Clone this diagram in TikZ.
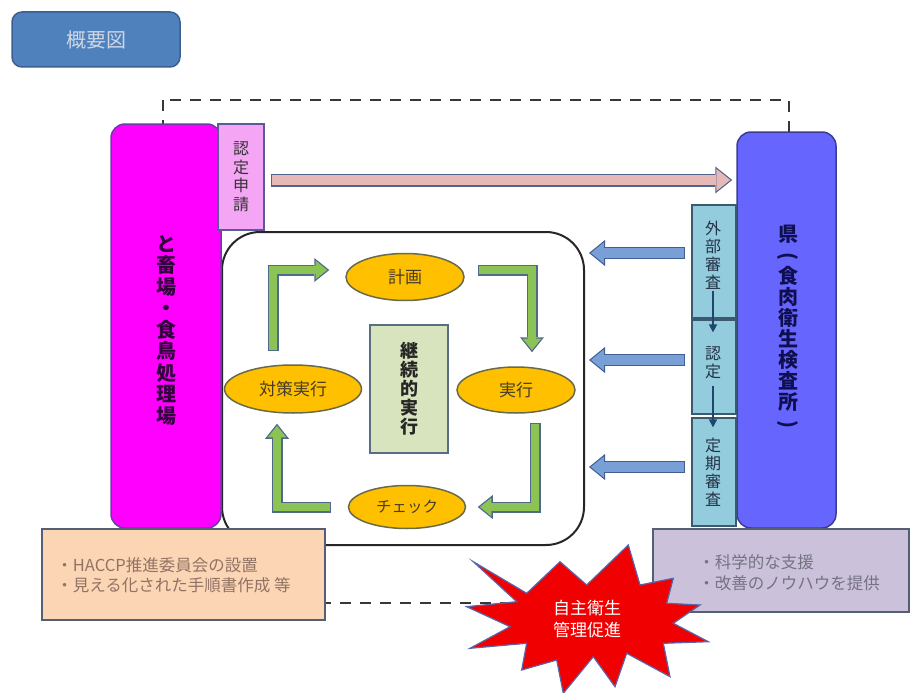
\documentclass[tikz,border=0pt]{standalone}
\usepackage{graphicx}
\usepackage{fontspec}
\setmainfont{Noto Sans CJK JP}
\usetikzlibrary{shapes.geometric,arrows.meta,calc}
\definecolor{dashc}{RGB}{55,55,55}
\definecolor{btnfill}{RGB}{79,129,189}
\definecolor{btnline}{RGB}{60,95,145}
\definecolor{btntext}{RGB}{205,215,230}
\definecolor{magfill}{RGB}{255,0,255}
\definecolor{magline}{RGB}{105,60,170}
\definecolor{magtext}{RGB}{50,0,60}
\definecolor{shinfill}{RGB}{244,165,244}
\definecolor{shinline}{RGB}{90,90,150}
\definecolor{kenfill}{RGB}{102,102,255}
\definecolor{kenline}{RGB}{60,60,150}
\definecolor{kentext}{RGB}{15,15,80}
\definecolor{lbfill}{RGB}{147,205,221}
\definecolor{lbline}{RGB}{60,90,110}
\definecolor{lbtext}{RGB}{35,50,70}
\definecolor{varrc}{RGB}{30,70,110}
\definecolor{bafill}{RGB}{120,160,215}
\definecolor{baline}{RGB}{65,95,150}
\definecolor{pkfill}{RGB}{230,185,184}
\definecolor{pkline}{RGB}{80,100,140}
\definecolor{elfill}{RGB}{255,192,0}
\definecolor{elline}{RGB}{105,105,75}
\definecolor{eltext}{RGB}{70,60,40}
\definecolor{gfill}{RGB}{140,195,85}
\definecolor{gline}{RGB}{80,105,140}
\definecolor{cfill}{RGB}{215,228,189}
\definecolor{cline}{RGB}{90,110,130}
\definecolor{peach}{RGB}{252,213,181}
\definecolor{peachtext}{RGB}{145,115,100}
\definecolor{lav}{RGB}{204,193,218}
\definecolor{lavtext}{RGB}{115,115,130}
\definecolor{boxline}{RGB}{85,95,115}
\definecolor{starfill}{RGB}{240,0,0}
\definecolor{starline}{RGB}{90,100,170}
\newcommand\fsz[2]{\fontsize{#1}{#2}\selectfont}
\newcommand\vparen[1]{\rotatebox[origin=c]{-90}{#1}}
\tikzset{
  frame/.style={draw=dashc, line width=2.5pt, dash pattern=on 11pt off 9pt},
  btn/.style={draw=btnline, fill=btnfill, line width=1.5pt, rounded corners=10pt,
    minimum width=168pt, minimum height=55pt, text=btntext, font=\fsz{20}{22}},
  bigrect/.style={draw=black!85, line width=2pt, fill=white, rounded corners=38pt,
    minimum width=362pt, minimum height=313pt},
  ell/.style={ellipse, draw=elline, line width=1.5pt, fill=elfill, inner sep=0pt,
    text=eltext, font=\fsz{17}{19}},
  vtext/.style={align=center, inner sep=0pt},
  magbox/.style={draw=magline, line width=1.5pt, fill=magfill, rounded corners=14pt,
    minimum width=110pt, minimum height=404pt},
  kenbox/.style={draw=kenline, line width=1.5pt, fill=kenfill, rounded corners=14pt,
    minimum width=99pt, minimum height=396pt},
  shinbox/.style={draw=shinline, line width=1.2pt, fill=shinfill, minimum width=46pt,
    minimum height=106pt, inner sep=0pt},
  lbbox/.style={draw=lbline, line width=1.2pt, fill=lbfill, minimum width=44pt, inner sep=0pt},
  cbox/.style={draw=cline, line width=1.5pt, fill=cfill, minimum width=78pt,
    minimum height=128pt, inner sep=0pt},
  gO/.style={draw=gline, line width=11pt, line join=miter,
    -{Triangle[length=15pt,width=24pt,line width=0pt]}},
  gI/.style={draw=gfill, line width=8.4pt, line join=miter, shorten <=1.3pt, shorten >=2.08pt,
    -{Triangle[length=11.6pt,width=18.6pt,line width=0pt]}},
  bO/.style={draw=baline, line width=12pt,
    -{Triangle[length=16pt,width=26pt,line width=0pt]}},
  bI/.style={draw=bafill, line width=9.6pt, shorten <=1.2pt, shorten >=1.9pt,
    -{Triangle[length=12.9pt,width=21pt,line width=0pt]}},
  pO/.style={draw=pkline, line width=13pt,
    -{Triangle[length=17pt,width=27pt,line width=0pt]}},
  pI/.style={draw=pkfill, line width=10.6pt, shorten <=1.2pt, shorten >=1.93pt,
    -{Triangle[length=13.9pt,width=22pt,line width=0pt]}},
  varr/.style={draw=varrc, line width=1.5pt, -{Triangle[length=8pt,width=8pt]}},
  notebox/.style={draw=boxline, line width=1.5pt, inner sep=0pt},
  starshape/.style={draw=starline, line width=1.2pt, fill=starfill, line join=miter},
}
\begin{document}
\begin{tikzpicture}[x=1pt,y=-1pt]
\useasboundingbox (0,0) rectangle (911,693);
\fill[white] (0,0) rectangle (911,693);

% dashed frame
\draw[frame] (163,100) rectangle (789,603);

% title button
\node[btn] (btn) at (96,39.5) {概要図};

% central rounded box
\node[bigrect] (big) at (403,388.5) {};

% PDCA ellipses
\node[ell, minimum width=118pt, minimum height=47pt] (keikaku) at (405,277) {計画};
\node[ell, minimum width=118pt, minimum height=46pt] (jikkou) at (516,390) {実行};
\node[ell, minimum width=137pt, minimum height=48pt] (taisaku) at (293,389) {対策実行};
\node[ell, minimum width=117pt, minimum height=43pt, font=\fsz{15.5}{18}] (check) at (407,507) {チェック};

% centre box
\node[cbox] (keizoku) at (409,389) {};
\node[vtext, font=\fsz{18}{19}\bfseries, text=black!85] at (keizoku) {継\\続\\的\\実\\行};

% green cycle arrows
\draw[gO] ($(taisaku.north)+(-20,-13)$) |- ($(keikaku.west)+(-16,-7)$);
\draw[gI] ($(taisaku.north)+(-20,-13)$) |- ($(keikaku.west)+(-16,-7)$);
\draw[gO] ($(keikaku.east)+(13,-7)$) -| ($(jikkou.north)+(16,-14)$);
\draw[gI] ($(keikaku.east)+(13,-7)$) -| ($(jikkou.north)+(16,-14)$);
\draw[gO] ($(jikkou.south)+(19,9)$) |- ($(check.east)+(11.5,0)$);
\draw[gI] ($(jikkou.south)+(19,9)$) |- ($(check.east)+(11.5,0)$);
\draw[gO] ($(check.west)+(-16.5,0)$) -| ($(taisaku.south)+(-16,10)$);
\draw[gI] ($(check.west)+(-16.5,0)$) -| ($(taisaku.south)+(-16,10)$);

% left: slaughterhouse box
\node[magbox] (mag) at (166,326) {};
\node[vtext, font=\fsz{20}{21.5}\bfseries, text=magtext] at (166,330)
  {と\\畜\\場\\・\\食\\鳥\\処\\理\\場};

% application box
\node[shinbox] (shinsei) at (241,177) {};
\node[vtext, font=\fsz{16}{18.5}, text=black!80] at (241,176.5) {認\\定\\申\\請};

% right: prefecture box
\node[kenbox] (ken) at (786.5,330) {};
\node[vtext, font=\fsz{20}{21}\bfseries, text=kentext] at (788,328)
  {県\\\vparen{(}\\食\\肉\\衛\\生\\検\\査\\所\\\vparen{)}};

% pink arrow
\draw[pO] ($(shinsei.east)+(6,3)$) -- ($(shinsei.east -| ken.west)+(-4,3)$);
\draw[pI] ($(shinsei.east)+(6,3)$) -- ($(shinsei.east -| ken.west)+(-4,3)$);

% inspection boxes
\node[lbbox, minimum height=113pt] (lb1) at (714,261.5) {};
\node[lbbox, minimum height=94pt] (lb2) at (714,367) {};
\node[lbbox, minimum height=108pt] (lb3) at (714,472) {};
\node[vtext, font=\fsz{16}{18}, text=lbtext] at (713,255) {外\\部\\審\\査};
\node[vtext, font=\fsz{16}{18}, text=lbtext] at (713,363) {認\\定};
\node[vtext, font=\fsz{16}{18}, text=lbtext] at (713,472) {定\\期\\審\\査};
\draw[varr] ($(lb1.south)+(-1,-28)$) -- ($(lb2.north)+(-1,13)$);
\draw[varr] ($(lb2.south)+(-1,-29)$) -- ($(lb3.north)+(-1,10)$);

% blue arrows
\draw[bO] ($(lb1.west)+(-6,-8.5)$) -- ($(lb1.west -| big.east)+(4,-8.5)$);
\draw[bI] ($(lb1.west)+(-6,-8.5)$) -- ($(lb1.west -| big.east)+(4,-8.5)$);
\draw[bO] ($(lb2.west)+(-6,-7)$) -- ($(lb2.west -| big.east)+(4,-7)$);
\draw[bI] ($(lb2.west)+(-6,-7)$) -- ($(lb2.west -| big.east)+(4,-7)$);
\draw[bO] ($(lb3.west)+(-6,-5)$) -- ($(lb3.west -| big.east)+(4,-5)$);
\draw[bI] ($(lb3.west)+(-6,-5)$) -- ($(lb3.west -| big.east)+(4,-5)$);

% note boxes
\node[notebox, fill=peach, minimum width=283pt, minimum height=91pt] (peachbox) at (183.5,574.5) {};
\node[anchor=west, align=left, inner sep=0pt, font=\fsz{16.5}{20.5}, text=peachtext]
  at ($(peachbox.west)+(15,1)$) {・HACCP推進委員会の設置\\・見える化された手順書作成 等};
\node[notebox, fill=lav, minimum width=256pt, minimum height=83pt] (lavbox) at (781,570.5) {};
\node[anchor=west, align=left, inner sep=0pt, font=\fsz{16.5}{21}, text=lavtext]
  at ($(lavbox.west)+(46,2)$) {・科学的な支援\\・改善のノウハウを提供};

% explosion
\draw[starshape] (473.3,561.7) -- (526.7,593.3) -- (560,561.7) -- (586.7,585) -- (628.3,545)
  -- (640,585) -- (673.3,578.3) -- (666.7,603.3) -- (700,605) -- (673.3,623.3)
  -- (708.3,641.7) -- (663.3,643.3) -- (670,676.7) -- (626.7,653.3) -- (615,686.7)
  -- (593.3,656.7) -- (563.3,693.3) -- (556.7,660) -- (521.7,670) -- (526.7,643.3)
  -- (470,648.3) -- (510,626.7) -- (466.7,606.7) -- (516.7,601.7) -- cycle;
\node[align=center, inner sep=0pt, font=\fsz{17}{22}, text=white] (star) at (587,619) {自主衛生\\管理促進};
\end{tikzpicture}
\end{document}
